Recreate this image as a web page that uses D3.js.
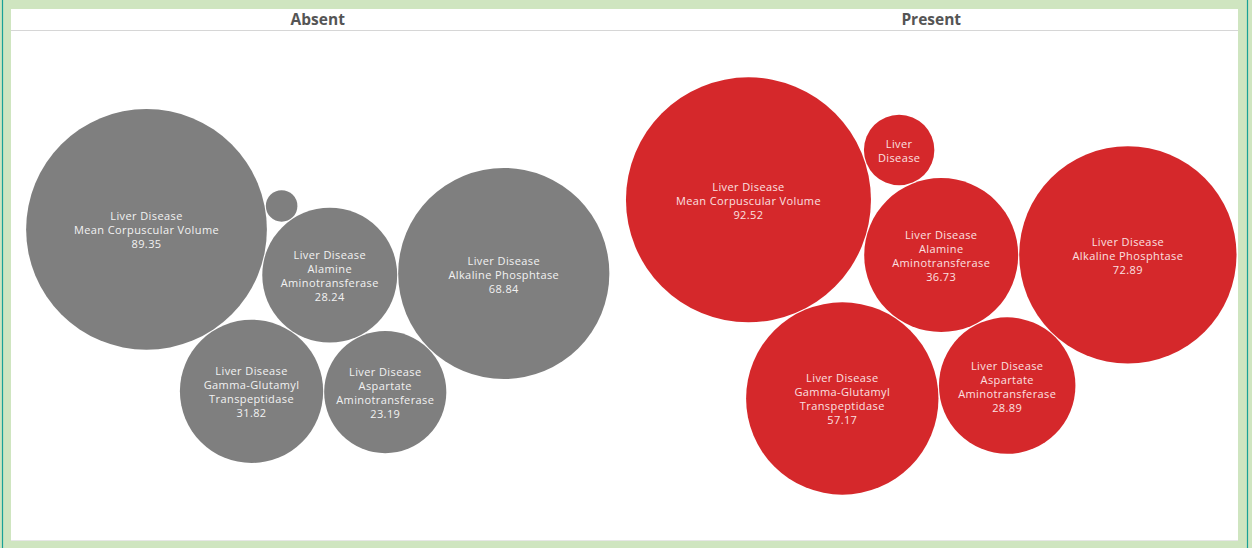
<!DOCTYPE html>
<html>
<head>
<meta charset="utf-8">
<script src="https://cdn.jsdelivr.net/npm/d3@7"></script>
<style>
  body { margin: 0; background: #cfe5c0; }
  svg { display: block; font-family: "Open Sans", "DejaVu Sans", sans-serif; }
</style>
</head>
<body>
<svg width="1252" height="548"></svg>
<script>
// panels and measures
var groups = ["Absent", "Present"];
var measures = ["Mean Corpuscular Volume", "Alamine Aminotransferase", "Gamma-Glutamyl Transpeptidase",
                "Aspartate Aminotransferase", "Alkaline Phosphtase", null];
var absentValues = [89.35, 28.24, 31.82, 23.19, 68.84, 1.62];
var presentValues = [92.52, 36.73, 57.17, 28.89, 72.89, 7.8];
var groupColors = ["#7f7f7f", "#d5282b"];
var textColors = ["#f2f2f2", "#fbe0e1"];

// packing: each bubble is tangent to two bubbles placed before it
var touches = [null, null, [0, 1], [2, 1], [3, 1], [1, 0]];
var startAngle = [14, 16]; // direction of second bubble from the first, degrees

var svg = d3.select("svg");
var W = 1252, H = 548;
var panel = { left: 11, right: 1238, top: 9, bottom: 540, header: 30 };

svg.append("rect").attr("x", 0).attr("y", 0).attr("width", W).attr("height", H).attr("fill", "#cfe5c0");
svg.append("line").attr("x1", 2.5).attr("x2", 2.5).attr("y1", 0).attr("y2", H).attr("stroke", "#1aa197").attr("stroke-width", 1.2);
svg.append("line").attr("x1", 1247.5).attr("x2", 1247.5).attr("y1", 0).attr("y2", H).attr("stroke", "#1aa197").attr("stroke-width", 1.2);
svg.append("rect")
    .attr("x", panel.left).attr("y", panel.top)
    .attr("width", panel.right - panel.left).attr("height", panel.bottom - panel.top)
    .attr("fill", "#fff");
svg.append("line")
    .attr("x1", panel.left).attr("x2", panel.right)
    .attr("y1", panel.bottom + 0.5).attr("y2", panel.bottom + 0.5)
    .attr("stroke", "#e6e6e6");
svg.append("line")
    .attr("x1", panel.left).attr("x2", panel.right)
    .attr("y1", panel.header + 0.5).attr("y2", panel.header + 0.5)
    .attr("stroke", "#d6d6d6");

var col = d3.scaleBand().domain(groups).range([panel.left, panel.right]);

var allValues = absentValues.concat(presentValues);
var r = d3.scaleSqrt().domain([0, d3.max(allValues)]).range([0, 123]);

svg.selectAll(".title")
    .data(groups)
    .enter().append("text")
    .attr("class", "title")
    .attr("x", function(d) { return col(d) + col.bandwidth() / 2; })
    .attr("y", 25)
    .attr("text-anchor", "middle")
    .attr("font-size", 15.5)
    .attr("font-weight", "bold")
    .attr("fill", "#555")
    .text(function(d) { return d; });

function place(c, a, b) {
    var dx = b.x - a.x, dy = b.y - a.y, d = Math.sqrt(dx * dx + dy * dy);
    var ra = a.r + c.r, rb = b.r + c.r;
    var ux = dx / d, uy = dy / d;
    var x = (d * d + ra * ra - rb * rb) / (2 * d);
    var h = Math.sqrt(Math.max(0, ra * ra - x * x));
    c.x = a.x + x * ux - h * uy;
    c.y = a.y + x * uy + h * ux;
}

[absentValues, presentValues].forEach(function(values, gi) {
    var nodes = values.map(function(v, i) { return { name: measures[i], value: v, r: r(v) }; });
    nodes[0].x = 0; nodes[0].y = 0;
    var ang = startAngle[gi] * Math.PI / 180;
    nodes[1].x = (nodes[0].r + nodes[1].r) * Math.cos(ang);
    nodes[1].y = (nodes[0].r + nodes[1].r) * Math.sin(ang);
    for (var i = 2; i < nodes.length; i++) place(nodes[i], nodes[touches[i][0]], nodes[touches[i][1]]);

    var x0 = d3.min(nodes, function(d) { return d.x - d.r; }), x1 = d3.max(nodes, function(d) { return d.x + d.r; });
    var y0 = d3.min(nodes, function(d) { return d.y - d.r; }), y1 = d3.max(nodes, function(d) { return d.y + d.r; });
    var cx = col(groups[gi]) + col.bandwidth() / 2, cy = (panel.header + panel.bottom) / 2 + 1;
    var g = svg.append("g")
        .attr("transform", "translate(" + (cx - (x0 + x1) / 2) + "," + (cy - (y0 + y1) / 2) + ")");

    var bubble = g.selectAll(".bubble")
        .data(nodes)
        .enter().append("g")
        .attr("class", "bubble")
        .attr("transform", function(d) { return "translate(" + d.x + "," + d.y + ")"; });

    bubble.append("circle")
        .attr("r", function(d) { return d.r - 0.5; })
        .attr("fill", groupColors[gi]);

    bubble.each(function(d) {
        var sel = d3.select(this);
        var maxW = d.r * 1.5;
        var txt = sel.append("text")
            .attr("text-anchor", "middle")
            .attr("font-size", 11)
            .attr("letter-spacing", 0.4)
            .attr("fill", textColors[gi]);
        var lines = [];
        // "Liver Disease" first, then the measure name wrapped to the bubble, then the value
        function wrap(ws) {
            var line = [];
            ws.forEach(function(w) {
                var trial = line.concat([w]).join(" ");
                var t = txt.append("tspan").text(trial);
                var len = t.node().getComputedTextLength();
                t.remove();
                if (len > maxW && line.length) { lines.push(line.join(" ")); line = [w]; }
                else line.push(w);
            });
            if (line.length) lines.push(line.join(" "));
        }
        wrap(["Liver", "Disease"]);
        if (d.name) {
            wrap(d.name.split(" "));
            lines.push(d3.format(".2f")(d.value));
        }
        var widest = 0;
        lines.forEach(function(l) {
            var t = txt.append("tspan").text(l);
            widest = Math.max(widest, t.node().getComputedTextLength());
            t.remove();
        });
        if (widest > d.r * 1.9) { txt.remove(); return; }
        var lh = 14;
        txt.selectAll("tspan")
            .data(lines)
            .enter().append("tspan")
            .attr("x", 0)
            .attr("y", function(l, i) { return (i - (lines.length - 1) / 2) * lh + 5; })
            .text(function(l) { return l; });
    });
});
</script>
</body>
</html>
